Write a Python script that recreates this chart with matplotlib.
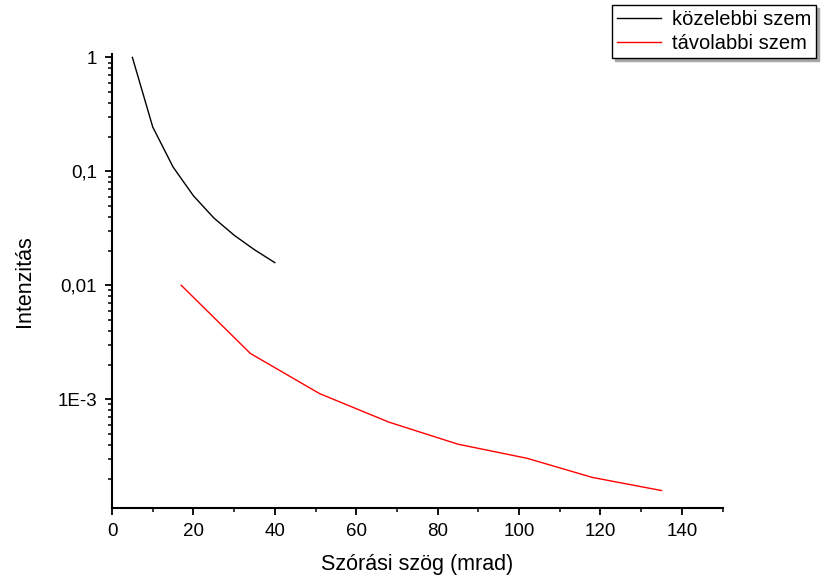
import numpy as np
import matplotlib.pyplot as plt
from matplotlib.ticker import FixedLocator, LogLocator, FuncFormatter, MultipleLocator

plt.rcParams['font.family'] = ['Liberation Sans', 'DejaVu Sans']

# közelebbi szem
x_kozel = [5, 10, 15, 20, 25, 30, 35, 40]
y_kozel = [1.0, 0.245, 0.109, 0.061, 0.039, 0.0275, 0.0205, 0.0158]

# távolabbi szem
x_tavol = [17, 34, 51, 68, 85, 102, 118, 135]
y_tavol = [0.0100, 0.00252, 0.00112, 0.00063, 0.000403, 0.000303, 0.000206, 0.000158]

y_major = [1, 0.1, 0.01, 0.001]
y_labels = {1: "1", 0.1: "0,1", 0.01: "0,01", 0.001: "1E-3"}

fig = plt.figure(figsize=(8.25, 5.79), dpi=100)
ax = fig.add_axes([0.1358, 0.1226, 0.740, 0.7841])

ax.plot(x_kozel, y_kozel, color='black', lw=1.0, label='közelebbi szem')
ax.plot(x_tavol, y_tavol, color='red', lw=1.0, label='távolabbi szem')

ax.set_yscale('log')
ax.set_xlim(0, 150)
ax.set_ylim(1.11e-4, 1.07)

ax.xaxis.set_major_locator(FixedLocator([0, 20, 40, 60, 80, 100, 120, 140]))
ax.xaxis.set_minor_locator(MultipleLocator(10))
ax.yaxis.set_major_locator(FixedLocator(y_major))
ax.yaxis.set_minor_locator(LogLocator(base=10, subs=np.arange(2, 10)))
ax.yaxis.set_major_formatter(FuncFormatter(lambda v, p: y_labels.get(round(v, 6), "")))
ax.yaxis.set_minor_formatter(FuncFormatter(lambda v, p: ""))

for s in ['top', 'right']:
    ax.spines[s].set_visible(False)
for s in ['left', 'bottom']:
    ax.spines[s].set_linewidth(1.5)

ax.tick_params(which='major', direction='out', length=5, width=1.3, labelsize=13.5, pad=6)
ax.tick_params(which='minor', direction='out', length=3, width=1.1)

ax.set_xlabel('Szórási szög (mrad)', fontsize=15.5, labelpad=10)
ax.set_ylabel('Intenzitás', fontsize=15.5, labelpad=16)

leg = fig.legend(loc='upper right', bbox_to_anchor=(0.989, 0.991), fontsize=14.5,
                 frameon=True, fancybox=False, shadow={'color': '0.65', 'alpha': 1},
                 handlelength=2.2, borderpad=0.25, labelspacing=0.25,
                 handletextpad=0.5, borderaxespad=0, framealpha=1)
leg.get_frame().set_edgecolor('black')
leg.get_frame().set_linewidth(1.0)

fig.savefig('out.png', dpi=100)
